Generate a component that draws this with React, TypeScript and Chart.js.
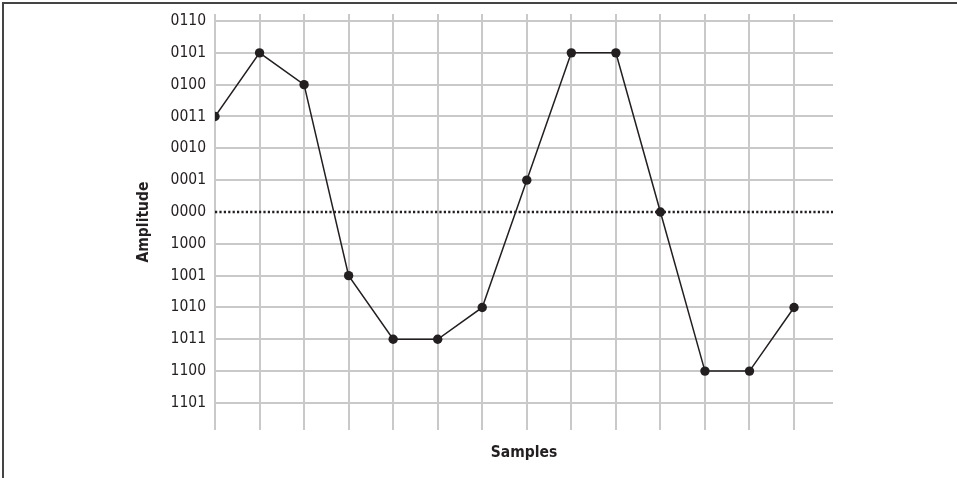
import React, { useEffect, useRef } from "react";
import { Chart, registerables } from "chart.js";

Chart.register(...registerables);

// Amplitude codes, top row to bottom row of the y axis
const codeLabels = ["0110", "0101", "0100", "0011", "0010", "0001", "0000", "1000", "1001", "1010", "1011", "1100", "1101"];
const levels = [6, 5, 4, 3, 2, 1, 0, -1, -2, -3, -4, -5, -6];

// Sample index and quantized amplitude code of each sample
const samples = [0, 1, 2, 3, 4, 5, 6, 7, 8, 9, 10, 11, 12, 13];
const sampleCodes = ["0011", "0101", "0100", "1001", "1011", "1011", "1010", "0001", "0101", "0101", "0000", "1100", "1100", "1010"];

// Dotted zero reference line
const zeroLineX = [0, 13.875];
const zeroLineY = [0, 0];

const X_MAX = 13.875;
const Y_MIN = -6.85;
const Y_MAX = 6.22;

const FONT = "'DejaVu Sans Condensed', 'Liberation Sans Narrow', 'Liberation Sans', sans-serif";
const INK = "#231f20";
const GRID = "#c9c9c9";

export default function App() {
  const canvasRef = useRef<HTMLCanvasElement | null>(null);

  useEffect(() => {
    const canvas = canvasRef.current;
    if (!canvas) return;
    const levelOf = (code: string) => levels[codeLabels.indexOf(code)];
    const chart = new Chart(canvas, {
      type: "line",
      data: {
        datasets: [
          {
            data: samples.map((s, i) => ({ x: s, y: levelOf(sampleCodes[i]) })),
            borderColor: INK,
            backgroundColor: INK,
            borderWidth: 1.5,
            pointRadius: 4.7,
            pointBackgroundColor: INK,
            pointBorderWidth: 0,
            tension: 0,
            order: 0,
          },
          {
            data: zeroLineX.map((x, i) => ({ x, y: zeroLineY[i] })),
            borderColor: INK,
            borderWidth: 2.5,
            borderDash: [2.2, 2.2],
            pointRadius: 0,
            order: 1,
          },
        ],
      },
      options: {
        animation: false,
        responsive: false,
        events: [],
        layout: { padding: { left: 0, right: 124, top: 14, bottom: 0 } },
        plugins: { legend: { display: false }, tooltip: { enabled: false } },
        scales: {
          x: {
            type: "linear",
            min: 0,
            max: X_MAX,
            afterBuildTicks: (s: any) => {
              s.ticks = samples.map((v) => ({ value: v }));
            },
            afterFit: (s: any) => {
              s.height = 48;
              s.paddingLeft = 0;
              s.paddingRight = 0;
            },
            ticks: { display: false },
            grid: { color: GRID, lineWidth: 2, drawTicks: false },
            border: { display: false },
            title: {
              display: true,
              text: "Samples",
              color: INK,
              font: { family: FONT, size: 15.5, weight: "bold" },
              padding: { top: 0, bottom: 16 },
            },
          },
          y: {
            type: "linear",
            min: Y_MIN,
            max: Y_MAX,
            afterBuildTicks: (s: any) => {
              s.ticks = levels.map((v) => ({ value: v }));
            },
            afterFit: (s: any) => {
              s.width = 215;
              s.paddingTop = 0;
              s.paddingBottom = 0;
            },
            ticks: {
              color: INK,
              padding: 9,
              font: { family: FONT, size: 15.5 },
              callback: (v: any) => {
                const i = levels.indexOf(Number(v));
                return i >= 0 ? codeLabels[i] : "";
              },
            },
            grid: {
              color: (ctx: any) => (ctx.tick && ctx.tick.value === 0 ? "rgba(0,0,0,0)" : GRID),
              lineWidth: 2,
              drawTicks: false,
            },
            border: { display: false },
            title: {
              display: true,
              text: "Amplitude",
              color: INK,
              font: { family: FONT, size: 15.5, weight: "bold" },
              padding: { top: 135, bottom: 0 },
            },
          },
        },
      },
    } as any);
    return () => chart.destroy();
  }, []);

  return (
    <div style={{ position: "fixed", left: 0, top: 0, width: 957, height: 478, background: "#fff", overflow: "hidden" }}>
      <div
        style={{
          position: "absolute",
          left: 2,
          top: 2,
          width: 2000,
          height: 2000,
          borderTop: "2px solid #444",
          borderLeft: "2px solid #444",
        }}
      />
      <canvas ref={canvasRef} width={957} height={478} style={{ position: "absolute", left: 0, top: 0 }} />
    </div>
  );
}
